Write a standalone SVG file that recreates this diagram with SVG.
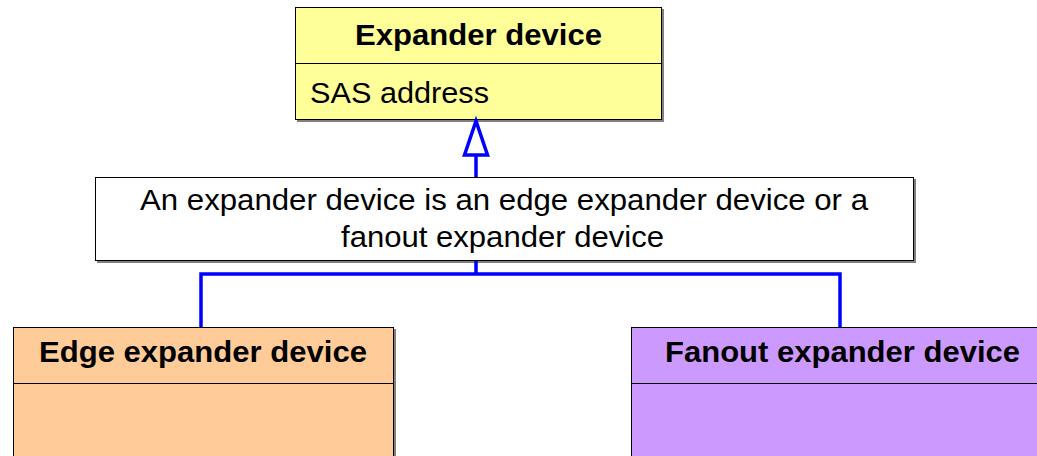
<svg xmlns="http://www.w3.org/2000/svg" width="1037" height="456" viewBox="0 0 1037 456">
<style>
.box{stroke:#000;stroke-width:1}
.shadow{fill:#808080}
.t{font-family:"Liberation Sans",Arial,sans-serif;font-size:29px;fill:#000}
.b{font-weight:bold}
.conn{fill:none;stroke:#0000FF;stroke-width:3.5}
</style>
<rect width="1037" height="456" fill="#fff"/>
<g id="expander-device">
<rect class="shadow" x="297" y="9" width="367" height="113"/>
<rect class="box" x="295.5" y="7.5" width="366" height="112" fill="#FFFF99"/>
<line class="box" x1="295.5" y1="63.5" x2="661.5" y2="63.5"/>
<text class="t b" x="355" y="45" textLength="247" lengthAdjust="spacingAndGlyphs">Expander device</text>
<text class="t" x="310" y="103" textLength="179" lengthAdjust="spacingAndGlyphs">SAS address</text>
</g>
<g id="note">
<rect class="shadow" x="97" y="179" width="819" height="84"/>
<rect class="box" x="95.5" y="177.5" width="818" height="83" fill="#fff"/>
<text class="t" x="140" y="210" textLength="728" lengthAdjust="spacingAndGlyphs">An expander device is an edge expander device or a</text>
<text class="t" x="341" y="247" textLength="323" lengthAdjust="spacingAndGlyphs">fanout expander device</text>
</g>
<g id="edge-expander-device">
<rect class="shadow" x="15" y="329" width="381" height="140"/>
<rect class="box" x="13.5" y="327.5" width="380" height="140" fill="#FFCC99"/>
<line class="box" x1="13.5" y1="383.5" x2="393.5" y2="383.5"/>
<text class="t b" x="39" y="362" textLength="328" lengthAdjust="spacingAndGlyphs">Edge expander device</text>
</g>
<g id="fanout-expander-device">
<rect class="box" x="631.5" y="327.5" width="420" height="140" fill="#CC99FF"/>
<line class="box" x1="631.5" y1="383.5" x2="1051" y2="383.5"/>
<text class="t b" x="665" y="362" textLength="355" lengthAdjust="spacingAndGlyphs">Fanout expander device</text>
</g>
<g id="connectors">
<line class="conn" x1="476" y1="155" x2="476" y2="177"/>
<polygon points="476,121 464.5,155 487.5,155" fill="#fff" stroke="#0000FF" stroke-width="3.5" stroke-linejoin="miter"/>
<line class="conn" x1="476" y1="261" x2="476" y2="274"/>
<polyline class="conn" points="201,327 201,274 840,274 840,327"/>
</g>
</svg>
